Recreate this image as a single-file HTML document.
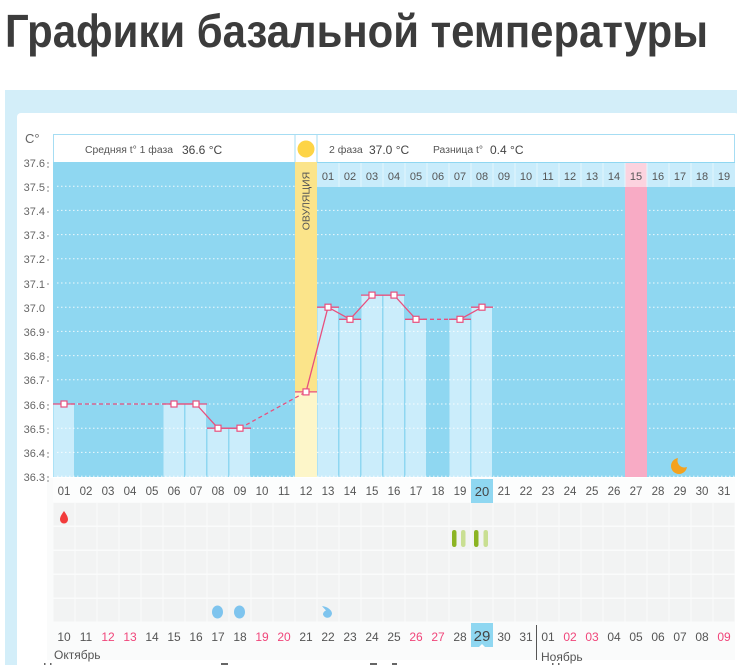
<!DOCTYPE html>
<html><head><meta charset="utf-8">
<style>
html,body{margin:0;padding:0;background:#fff;}
svg{display:block;font-family:"Liberation Sans","Noto Sans CJK SC",sans-serif;}
</style></head>
<body>
<svg width="737" height="665" viewBox="0 0 737 665" xmlns="http://www.w3.org/2000/svg">
<defs>
<mask id="moonm"><rect x="660" y="445" width="40" height="40" fill="#fff"/><circle cx="684.5" cy="460.5" r="7" fill="#000"/></mask>
</defs>
<rect width="737" height="665" fill="#fff"/>
<!-- title -->
<text x="5" y="47" font-size="46" font-weight="bold" fill="#3c3c3c" textLength="703" lengthAdjust="spacingAndGlyphs">Графики базальной температуры</text>
<!-- outer band -->
<rect x="5" y="90" width="732" height="575" fill="#d3eef9"/>
<rect x="17" y="113" width="722" height="560" rx="4" fill="#fff"/>
<!-- lower light region -->
<rect x="47" y="478" width="688" height="182" fill="#fafbfb"/>
<!-- y axis -->
<text x="25" y="143" font-size="13" fill="#666">C°</text>
<g font-size="11" fill="#666" text-anchor="end">
<text x="45" y="167">37.6</text><text x="45" y="191">37.5</text><text x="45" y="215">37.4</text><text x="45" y="239">37.3</text><text x="45" y="263">37.2</text><text x="45" y="288">37.1</text><text x="45" y="312">37.0</text><text x="45" y="336">36.9</text><text x="45" y="360">36.8</text><text x="45" y="384">36.7</text><text x="45" y="409">36.6</text><text x="45" y="433">36.5</text><text x="45" y="457">36.4</text><text x="45" y="481">36.3</text>
</g>
<g fill="#888">
<rect x="47.5" y="162" width="1" height="2"/><rect x="47.5" y="166" width="1" height="2"/>
<rect x="47.5" y="186" width="1" height="2"/><rect x="47.5" y="190" width="1" height="2"/>
<rect x="47.5" y="211" width="1" height="2"/><rect x="47.5" y="235" width="1" height="2"/>
<rect x="47.5" y="259" width="1" height="2"/><rect x="47.5" y="283" width="1" height="2"/>
<rect x="47.5" y="331" width="1" height="2"/><rect x="47.5" y="356" width="1" height="2"/><rect x="47.5" y="360" width="1" height="2"/>
<rect x="47.5" y="380" width="1" height="2"/><rect x="47.5" y="404" width="1" height="2"/><rect x="47.5" y="408" width="1" height="2"/>
<rect x="47.5" y="428" width="1" height="2"/><rect x="47.5" y="432" width="1" height="2"/><rect x="47.5" y="452" width="1" height="2"/><rect x="47.5" y="456" width="1" height="2"/>
<rect x="47.5" y="476" width="1" height="2"/><rect x="47.5" y="480" width="1" height="2"/>
</g>
<!-- header row -->
<rect x="53.5" y="134.5" width="681" height="28" fill="#fff" stroke="#a6ddf3" stroke-width="1"/>
<line x1="295" y1="134" x2="295" y2="162" stroke="#a6ddf3"/>
<line x1="317" y1="134" x2="317" y2="162" stroke="#a6ddf3"/>
<circle cx="306" cy="149" r="8.5" fill="#fdd446"/>
<text x="85" y="153" font-size="10" fill="#555" textLength="88" lengthAdjust="spacingAndGlyphs">Средняя t° 1 фаза</text>
<text x="182" y="154" font-size="12" fill="#444">36.6 °C</text>
<text x="329" y="153" font-size="10.5" fill="#555">2 фаза</text>
<text x="369" y="154" font-size="12" fill="#444">37.0 °C</text>
<text x="433" y="153" font-size="10" fill="#555" textLength="50" lengthAdjust="spacingAndGlyphs">Разница t°</text>
<text x="490" y="154" font-size="12" fill="#444">0.4 °C</text>
<!-- plot bg -->
<rect x="53" y="162" width="682" height="315" fill="#8fd7f1"/>
<!-- bars -->
<g fill="#cbedfb">
<rect x="53.5" y="404" width="20.5" height="73"/>
<rect x="163.5" y="404" width="20.5" height="73"/>
<rect x="185.5" y="404" width="20.5" height="73"/>
<rect x="207.5" y="428.2" width="20.5" height="48.8"/>
<rect x="229.5" y="428.2" width="20.5" height="48.8"/>
<rect x="317.5" y="307.2" width="20.5" height="169.8"/>
<rect x="339.5" y="319.3" width="20.5" height="157.7"/>
<rect x="361.5" y="295.1" width="20.5" height="181.9"/>
<rect x="383.5" y="295.1" width="20.5" height="181.9"/>
<rect x="405.5" y="319.3" width="20.5" height="157.7"/>
<rect x="449.5" y="319.3" width="20.5" height="157.7"/>
<rect x="471.5" y="307.2" width="20.5" height="169.8"/>
</g>
<!-- gridlines -->
<g stroke="#fff" stroke-width="1" stroke-dasharray="1.5 2.5" opacity="0.85">
<line x1="57" y1="186.2" x2="735" y2="186.2"/><line x1="57" y1="210.4" x2="735" y2="210.4"/><line x1="57" y1="234.6" x2="735" y2="234.6"/><line x1="57" y1="258.8" x2="735" y2="258.8"/><line x1="57" y1="283" x2="735" y2="283"/><line x1="57" y1="307.2" x2="735" y2="307.2"/><line x1="57" y1="331.4" x2="735" y2="331.4"/><line x1="57" y1="355.6" x2="735" y2="355.6"/><line x1="57" y1="379.8" x2="735" y2="379.8"/><line x1="57" y1="404" x2="735" y2="404"/><line x1="57" y1="428.2" x2="735" y2="428.2"/><line x1="57" y1="452.4" x2="735" y2="452.4"/><line x1="57" y1="476.3" x2="735" y2="476.3"/>
</g>
<!-- ovulation column -->
<rect x="295" y="162" width="22" height="230" fill="#fbe48a"/>
<rect x="295" y="392" width="22" height="85" fill="#fdf6c9"/>
<text transform="translate(309.5,201) rotate(-90)" font-size="10.5" fill="#555" text-anchor="middle">ОВУЛЯЦИЯ</text>
<!-- pink column -->
<rect x="625" y="187" width="22" height="290" fill="#f8abc5"/>
<!-- phase 2 day row -->
<rect x="317" y="163" width="418" height="24" fill="#c9ecfb"/>
<rect x="625" y="163" width="22" height="24" fill="#fcd3df"/>
<g stroke="#e3f6fd" stroke-width="1">
<line x1="339" y1="163" x2="339" y2="187"/><line x1="361" y1="163" x2="361" y2="187"/><line x1="383" y1="163" x2="383" y2="187"/><line x1="405" y1="163" x2="405" y2="187"/><line x1="427" y1="163" x2="427" y2="187"/><line x1="449" y1="163" x2="449" y2="187"/><line x1="471" y1="163" x2="471" y2="187"/><line x1="493" y1="163" x2="493" y2="187"/><line x1="515" y1="163" x2="515" y2="187"/><line x1="537" y1="163" x2="537" y2="187"/><line x1="559" y1="163" x2="559" y2="187"/><line x1="581" y1="163" x2="581" y2="187"/><line x1="603" y1="163" x2="603" y2="187"/><line x1="625" y1="163" x2="625" y2="187"/><line x1="647" y1="163" x2="647" y2="187"/><line x1="669" y1="163" x2="669" y2="187"/><line x1="691" y1="163" x2="691" y2="187"/><line x1="713" y1="163" x2="713" y2="187"/>
</g>
<g font-size="11" fill="#555" text-anchor="middle">
<text x="328" y="180">01</text><text x="350" y="180">02</text><text x="372" y="180">03</text><text x="394" y="180">04</text><text x="416" y="180">05</text><text x="438" y="180">06</text><text x="460" y="180">07</text><text x="482" y="180">08</text><text x="504" y="180">09</text><text x="526" y="180">10</text><text x="548" y="180">11</text><text x="570" y="180">12</text><text x="592" y="180">13</text><text x="614" y="180">14</text><text x="636" y="180">15</text><text x="658" y="180">16</text><text x="680" y="180">17</text><text x="702" y="180">18</text><text x="724" y="180">19</text>
</g>
<!-- temperature lines -->
<g stroke="#e8507e" stroke-width="1.3" fill="none">
<line x1="53" y1="404" x2="75" y2="404"/>
<line x1="163" y1="404" x2="207" y2="404"/>
<line x1="207" y1="428.2" x2="251" y2="428.2"/>
<line x1="295" y1="391.9" x2="317" y2="391.9"/>
<line x1="317" y1="307.2" x2="339" y2="307.2"/>
<line x1="339" y1="319.3" x2="361" y2="319.3"/>
<line x1="361" y1="295.1" x2="405" y2="295.1"/>
<line x1="405" y1="319.3" x2="427" y2="319.3"/>
<line x1="449" y1="319.3" x2="471" y2="319.3"/>
<line x1="471" y1="307.2" x2="493" y2="307.2"/>
<polyline points="174,404 196,404 218,428.2 240,428.2"/>
<polyline points="306,391.9 328,307.2 350,319.3 372,295.1 394,295.1 416,319.3"/>
<polyline points="460,319.3 482,307.2"/>
<g stroke-dasharray="4 3">
<line x1="64" y1="404" x2="174" y2="404"/>
<line x1="240" y1="428.2" x2="306" y2="391.9"/>
<line x1="416" y1="319.3" x2="460" y2="319.3"/>
</g>
</g>
<g fill="#fff" stroke="#e8507e" stroke-width="1.2">
<rect x="61" y="401" width="6" height="6"/><rect x="171" y="401" width="6" height="6"/><rect x="193" y="401" width="6" height="6"/><rect x="215" y="425.2" width="6" height="6"/><rect x="237" y="425.2" width="6" height="6"/><rect x="303" y="388.9" width="6" height="6"/><rect x="325" y="304.2" width="6" height="6"/><rect x="347" y="316.3" width="6" height="6"/><rect x="369" y="292.1" width="6" height="6"/><rect x="391" y="292.1" width="6" height="6"/><rect x="413" y="316.3" width="6" height="6"/><rect x="457" y="316.3" width="6" height="6"/><rect x="479" y="304.2" width="6" height="6"/>
</g>
<!-- moon -->
<circle cx="679" cy="466" r="8" fill="#f4a21e" mask="url(#moonm)"/>
<!-- bottom axis row -->
<rect x="53" y="478" width="682" height="24" fill="#fcfdfd"/>
<rect x="471" y="479" width="22" height="24" fill="#8fd7f1"/>
<g font-size="11.5" fill="#555" text-anchor="middle">
<text x="64" y="495">01</text><text x="86" y="495">02</text><text x="108" y="495">03</text><text x="130" y="495">04</text><text x="152" y="495">05</text><text x="174" y="495">06</text><text x="196" y="495">07</text><text x="218" y="495">08</text><text x="240" y="495">09</text><text x="262" y="495">10</text><text x="284" y="495">11</text><text x="306" y="495">12</text><text x="328" y="495">13</text><text x="350" y="495">14</text><text x="372" y="495">15</text><text x="394" y="495">16</text><text x="416" y="495">17</text><text x="438" y="495">18</text><text x="460" y="495">19</text><text x="482" y="496" font-size="13" fill="#444">20</text><text x="504" y="495">21</text><text x="526" y="495">22</text><text x="548" y="495">23</text><text x="570" y="495">24</text><text x="592" y="495">25</text><text x="614" y="495">26</text><text x="636" y="495">27</text><text x="658" y="495">28</text><text x="680" y="495">29</text><text x="702" y="495">30</text><text x="724" y="495">31</text>
</g>
<!-- lower grid -->
<g fill="#f2f3f3" id="grid"></g>
<script>
(function(){
var g=document.getElementById('grid');
var ns='http://www.w3.org/2000/svg';
for(var d=0;d<31;d++){for(var r=0;r<5;r++){var e=document.createElementNS(ns,'rect');e.setAttribute('x',53.5+d*22);e.setAttribute('y',503+r*24);e.setAttribute('width',21);e.setAttribute('height',22.5);g.appendChild(e);}}
})();
</script>
<!-- icons -->
<path d="M64,511 C66,514 68,516.5 68,519.5 A4,4 0 0 1 60,519.5 C60,516.5 62,514 64,511 Z" fill="#f23b3b"/>
<rect x="452" y="530" width="4.5" height="17" rx="2.2" fill="#8cb423"/>
<rect x="461" y="530" width="4.5" height="17" rx="2.2" fill="#c9df92"/>
<rect x="474" y="530" width="4.5" height="17" rx="2.2" fill="#8cb423"/>
<rect x="483.5" y="530" width="4.5" height="17" rx="2.2" fill="#c9df92"/>
<ellipse cx="217.5" cy="612" rx="5.5" ry="6.5" fill="#7ec4ee"/>
<ellipse cx="239.5" cy="612" rx="5.5" ry="6.5" fill="#7ec4ee"/>
<path d="M322,606 C327,606.5 332,610 332,613.5 A4.6,4.6 0 0 1 323,614.5 C323,612.5 324.5,611 326,610.5 C325,609 323.5,608 322,606 Z" fill="#7ec4ee"/>
<!-- bottom dates -->
<rect x="471" y="623" width="22" height="24" fill="#8fd7f1"/>
<path d="M479,647 L482,644 L485,647 Z" fill="#fff"/>
<line x1="536.5" y1="625" x2="536.5" y2="660" stroke="#555" stroke-width="1"/>
<g font-size="12" fill="#555" text-anchor="middle">
<text x="64" y="641">10</text><text x="86" y="641">11</text><text x="108" y="641" fill="#f0457a">12</text><text x="130" y="641" fill="#f0457a">13</text><text x="152" y="641">14</text><text x="174" y="641">15</text><text x="196" y="641">16</text><text x="218" y="641">17</text><text x="240" y="641">18</text><text x="262" y="641" fill="#f0457a">19</text><text x="284" y="641" fill="#f0457a">20</text><text x="306" y="641">21</text><text x="328" y="641">22</text><text x="350" y="641">23</text><text x="372" y="641">24</text><text x="394" y="641">25</text><text x="416" y="641" fill="#f0457a">26</text><text x="438" y="641" fill="#f0457a">27</text><text x="460" y="641">28</text><text x="482" y="641" font-size="15" fill="#444">29</text><text x="504" y="641">30</text><text x="526" y="641">31</text><text x="548" y="641">01</text><text x="570" y="641" fill="#f0457a">02</text><text x="592" y="641" fill="#f0457a">03</text><text x="614" y="641">04</text><text x="636" y="641">05</text><text x="658" y="641">06</text><text x="680" y="641">07</text><text x="702" y="641">08</text><text x="724" y="641" fill="#f0457a">09</text>
</g>
<text x="54" y="659" font-size="12" fill="#555">Октябрь</text>
<text x="541" y="661" font-size="12" fill="#555">Ноябрь</text>
<!-- clipped next line -->
<g fill="#666">
<rect x="44" y="663" width="1.5" height="2"/><rect x="50" y="663" width="1.5" height="2"/>
<rect x="221" y="663" width="7" height="2"/>
<rect x="370" y="663" width="7" height="2"/><rect x="392" y="663" width="5" height="2"/>
<rect x="552" y="663" width="1.5" height="2"/><rect x="558" y="663" width="1.5" height="2"/>
</g>
</svg>
</body></html>
